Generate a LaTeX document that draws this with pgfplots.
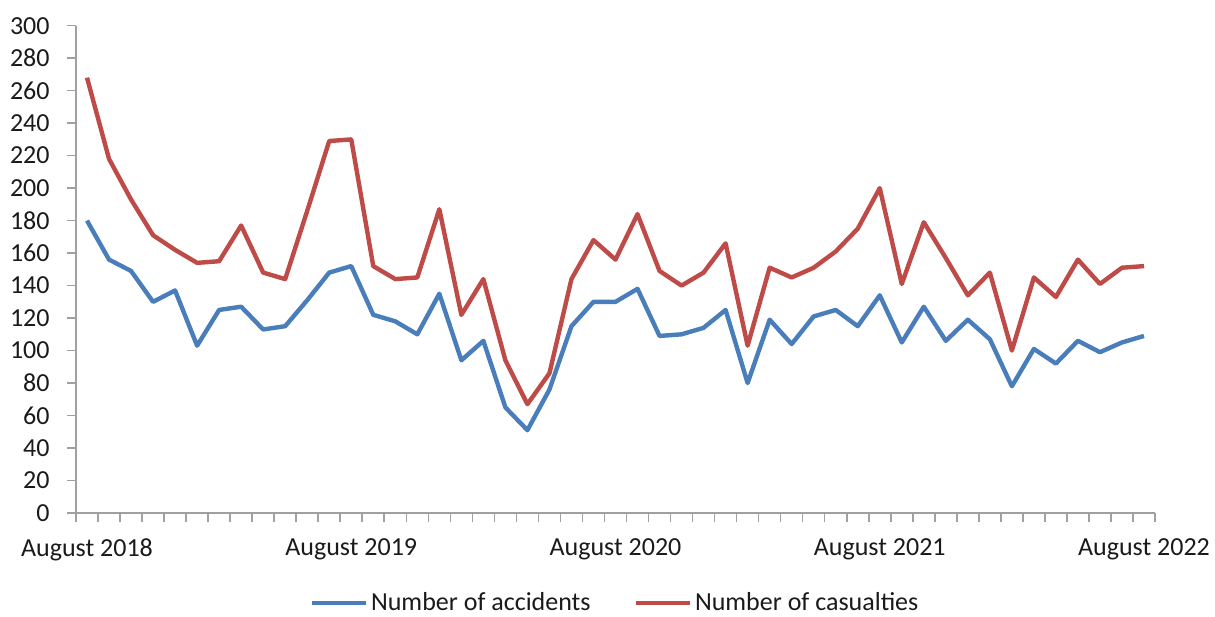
\documentclass[border=0pt]{standalone}
\usepackage{fontspec}
\setmainfont{Carlito}
\usepackage{pgfplots}
\usepackage{pgfplotstable}
\usetikzlibrary{calc}
\pgfplotsset{compat=1.18}
\definecolor{accblue}{HTML}{4A7EBB}
\definecolor{casred}{HTML}{BE4B48}
\definecolor{axgray}{HTML}{A0A0A0}
\definecolor{txt}{HTML}{1A1A1A}
\pgfplotstableread{
i acc cas
0 180 268
1 156 218
2 149 193
3 130 171
4 137 162
5 103 154
6 125 155
7 127 177
8 113 148
9 115 144
10 131 186
11 148 229
12 152 230
13 122 152
14 118 144
15 110 145
16 135 187
17 94 122
18 106 144
19 65 94
20 51 67
21 76 86
22 115 144
23 130 168
24 130 156
25 138 184
26 109 149
27 110 140
28 114 148
29 125 166
30 80 103
31 119 151
32 104 145
33 121 151
34 125 161
35 115 175
36 134 200
37 105 141
38 127 179
39 106 157
40 119 134
41 107 148
42 78 100
43 101 145
44 92 133
45 106 156
46 99 141
47 105 151
48 109 152
}\datatable
\begin{document}
\begin{tikzpicture}
\begin{axis}[
  name=ax,
  scale only axis,
  width=539.5pt, height=243.65pt,
  xmin=-0.5, xmax=48.5,
  ymin=0, ymax=300,
  axis lines=left,
  axis line style={axgray, line width=0.8pt, -},
  xtick={-0.5,0.5,...,48.5},
  xticklabels={},
  extra x ticks={0,12,24,36,48},
  extra x tick labels={August 2018,August 2019,August 2020,August 2021,August 2022},
  extra x tick style={major tick length=0pt},
  ytick={0,20,...,300},
  tick align=outside,
  major tick length=4.5pt,
  tick style={axgray, line width=0.8pt},
  /pgf/number format/assume math mode=true,
  ticklabel style={font=\fontsize{13pt}{15pt}\selectfont, text=txt, inner sep=0pt},
  yticklabel shift=8.5pt,
  xticklabel shift=12.5pt,
  legend style={draw=none, fill=none, at={(0.5,-0.1847)}, anchor=center,
    font=\fontsize{13pt}{15pt}\selectfont, text=txt, inner sep=0pt,
    nodes={inner sep=1.5pt}},
  legend columns=2,
  legend cell align=left,
  /tikz/every even column/.append style={column sep=20pt},
  legend image code/.code={\draw[#1] (0pt,0pt) -- (27pt,0pt);},
]
\addplot[accblue, line width=2.2pt, line join=round] table[x=i, y=acc]{\datatable};
\addlegendentry{Number of accidents}
\addplot[casred, line width=2.2pt, line join=round] table[x=i, y=cas]{\datatable};
\addlegendentry{Number of casualties}
\end{axis}
\path ($(ax.south west)+(-38pt,-50pt)$) rectangle ($(ax.north east)+(30pt,12.85pt)$);
\end{tikzpicture}
\end{document}
